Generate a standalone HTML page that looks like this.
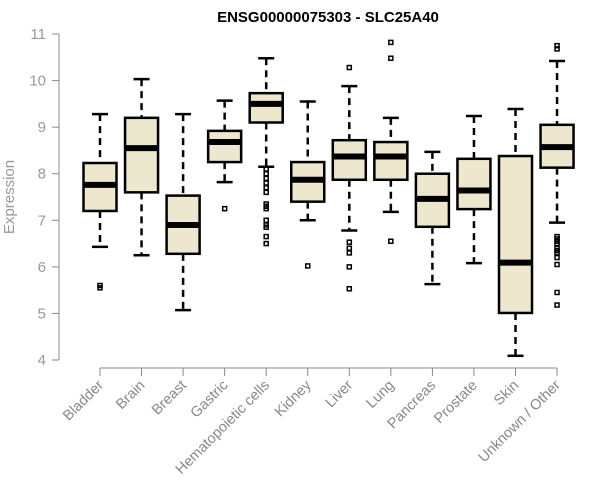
<!DOCTYPE html>
<html><head><meta charset="utf-8"><style>
body{margin:0;background:#fff;}
svg{display:block;font-family:"Liberation Sans",Arial,sans-serif;}
</style></head><body>
<svg id="chart" width="600" height="500" viewBox="0 0 600 500">
<text x="328" y="22" text-anchor="middle" font-weight="bold" font-size="15" fill="#000">ENSG00000075303 - SLC25A40</text>
<text transform="translate(14,197) rotate(-90)" text-anchor="middle" font-size="15" fill="#999">Expression</text>
<g id="yaxis"></g>
<g id="xaxis"></g>
<g id="boxes"></g>
</svg>
<script>
const categories=["Bladder","Brain","Breast","Gastric","Hematopoietic cells","Kidney","Liver","Lung","Pancreas","Prostate","Skin","Unknown / Other"];
const q1=[7.2,7.6,6.28,8.25,9.1,7.4,7.87,7.87,6.86,7.24,5.01,8.13];
const medians=[7.76,8.55,6.9,8.68,9.5,7.87,8.37,8.37,7.46,7.64,6.09,8.57];
const q3=[8.23,9.2,7.53,8.92,9.73,8.25,8.72,8.68,8.0,8.32,8.38,9.05];
const whiskerLow=[6.43,6.25,5.07,7.82,8.15,7.0,6.78,7.18,5.63,6.08,4.09,6.95];
const whiskerHigh=[9.28,10.03,9.28,9.57,10.48,9.55,9.88,9.2,8.47,9.24,9.39,10.42];
const outliers=[[5.6,5.55],[],[],[7.25],[8.1,8.0,7.9,7.8,7.7,7.6,7.35,7.3,7.25,7.0,6.9,6.85,6.65,6.5],[6.02],[10.28,6.53,6.4,6.3,6.0,5.53],[10.82,10.48,6.55],[],[],[],[10.75,10.68,6.65,6.6,6.55,6.5,6.4,6.35,6.3,6.2,6.05,5.45,5.18]];
const yTicks=[4,5,6,7,8,9,10,11];

const NS="http://www.w3.org/2000/svg";
function yS(v){return 360-(v-4)*46.57;}
function xS(i){return 100+i*41.55;}
function mk(tag,attrs,parent){const e=document.createElementNS(NS,tag);for(const k in attrs)e.setAttribute(k,attrs[k]);parent.appendChild(e);return e;}
const ya=document.getElementById('yaxis'),xa=document.getElementById('xaxis'),bx=document.getElementById('boxes');
const grey="#888";
mk('line',{x1:59,y1:yS(11),x2:59,y2:yS(4),stroke:grey,'stroke-width':1},ya);
yTicks.forEach(t=>{
  const l=mk('line',{x1:52,y1:yS(t),x2:59,y2:yS(t),stroke:grey},ya);
  
  
  const tx=mk('text',{x:46,y:yS(t)+5,'text-anchor':'end','font-size':15,fill:'#999'},ya);
  tx.textContent=t;
  
  
});
mk('line',{x1:xS(0),y1:368,x2:xS(categories.length-1),y2:368,stroke:grey},xa);
categories.forEach((c,i)=>{
  const x=xS(i);
  const l=mk('line',{x1:x,y1:368,x2:x,y2:376,stroke:grey},xa);
  
  
  const tx=mk('text',{transform:`translate(${x+4},${386}) rotate(-45)`,'text-anchor':'end','font-size':14.5,fill:'#888'},xa);
  tx.textContent=c;
  
  
});
categories.forEach((c,i)=>{
  const x=xS(i),hw=16.5;
  const g=mk('g',{},bx);
  
  
  mk('line',{x1:x,y1:yS(whiskerHigh[i]),x2:x,y2:yS(q3[i]),stroke:'#000','stroke-width':2.5,'stroke-dasharray':'7,5'},g);
  mk('line',{x1:x,y1:yS(q1[i]),x2:x,y2:yS(whiskerLow[i]),stroke:'#000','stroke-width':2.5,'stroke-dasharray':'7,5'},g);
  mk('line',{x1:x-8,y1:yS(whiskerHigh[i]),x2:x+8,y2:yS(whiskerHigh[i]),stroke:'#000','stroke-width':2.5},g);
  mk('line',{x1:x-8,y1:yS(whiskerLow[i]),x2:x+8,y2:yS(whiskerLow[i]),stroke:'#000','stroke-width':2.5},g);
  mk('rect',{x:x-hw,y:yS(q3[i]),width:2*hw,height:yS(q1[i])-yS(q3[i]),fill:'#ede7cd',stroke:'#000','stroke-width':2.5},g);
  mk('line',{x1:x-hw,y1:yS(medians[i]),x2:x+hw,y2:yS(medians[i]),stroke:'#000','stroke-width':6},g);
  outliers[i].forEach(v=>{
    const o=mk('rect',{x:x-2,y:yS(v)-2,width:4,height:4,fill:'none',stroke:'#000','stroke-width':1.5},g);
    
    
  });
});
</script>
</body></html>
